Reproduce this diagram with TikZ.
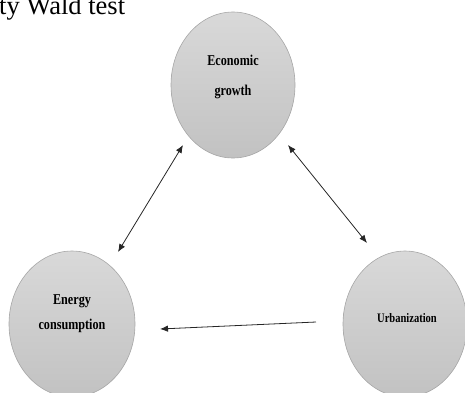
\documentclass[tikz,border=0pt]{standalone}
\usepackage{fontspec}
\setmainfont{Liberation Serif}
\usepackage{graphicx}
\usetikzlibrary{shapes.geometric,arrows.meta}
\tikzset{
  bubble/.style={ellipse, draw=gray!70, line width=0.6pt, top color=gray!30, bottom color=gray!48, minimum width=124pt, minimum height=146pt, inner sep=0pt},
  lbl/.style={align=center, inner sep=0pt, text=black},
  link/.style={line width=0.8pt, black!85}
}
\newcommand\cond[1]{\scalebox{0.81}[1]{\textbf{#1}}}
\begin{document}
\begin{tikzpicture}[x=1pt,y=-1pt]
\useasboundingbox (0,0) rectangle (465,392);
\begin{scope}
\clip (0,0) rectangle (465,392);
\node[anchor=base west, inner sep=0pt, font=\fontsize{26.5}{32}\selectfont] (title) at (-1,14) {ty Wald test};
\node[bubble] (eg) at (233,85) {};
\node[bubble, minimum width=126pt] (ec) at (72,324) {};
\node[bubble] (ur) at (405,324) {};
\end{scope}
\node[lbl, font=\fontsize{15}{30}\selectfont] (egt) at (233,77) {\cond{Economic}\\\cond{growth}};
\node[lbl, font=\fontsize{15}{25}\selectfont] (ect) at (72,314) {\cond{Energy}\\\cond{consumption}};
\node[lbl, font=\fontsize{13}{16}\selectfont] (urt) at (407,318) {\cond{Urbanization}};
\coordinate (a1) at (183,145);
\coordinate (a2) at (118,252);
\coordinate (b1) at (288,145);
\coordinate (b2) at (367,243);
\coordinate (c1) at (316,322);
\coordinate (c2) at (160,329);
\draw[link, {Latex[length=8pt,width=6.5pt]}-{Latex[length=8pt,width=6.5pt]}] (a1) -- (a2);
\draw[link, {Latex[length=8pt,width=6.5pt]}-{Latex[length=8pt,width=6.5pt]}] (b1) -- (b2);
\draw[link, -{Latex[length=8pt,width=6.5pt]}] (c1) -- (c2);
\end{tikzpicture}
\end{document}
